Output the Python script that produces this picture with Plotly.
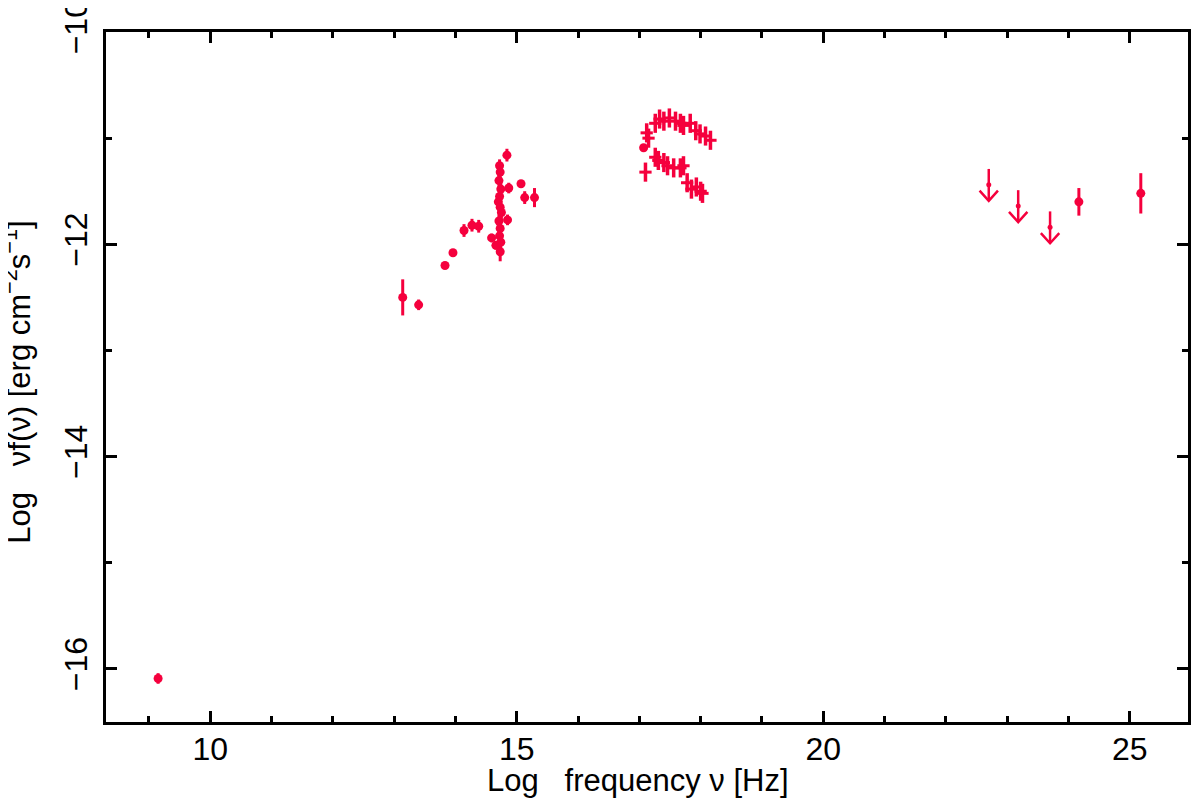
import plotly.graph_objects as go

RED = '#f5003d'

# radio / IR / optical points (log nu, log nuFnu, error)
opt_x = [9.15, 13.14, 13.40, 13.83, 13.96, 14.14, 14.27, 14.38, 14.59, 14.66,
         14.72, 14.73, 14.71, 14.74, 14.72, 14.70, 14.73, 14.75, 14.71, 14.73,
         14.72, 14.74, 14.73, 14.84, 14.87, 14.85, 15.07, 15.13, 15.29]
opt_y = [-16.09, -12.50, -12.57, -12.20, -12.08, -11.87, -11.82, -11.83, -11.94, -12.01,
         -11.26, -11.32, -11.40, -11.48, -11.55, -11.60, -11.65, -11.70, -11.78, -11.85,
         -11.92, -11.98, -12.07, -11.16, -11.47, -11.77, -11.43, -11.56, -11.56]
opt_err = [0.05, 0.17, 0.05, 0.0, 0.0, 0.06, 0.06, 0.06, 0.04, 0.04,
           0.06, 0.06, 0.06, 0.06, 0.06, 0.06, 0.06, 0.06, 0.06, 0.06,
           0.06, 0.06, 0.09, 0.06, 0.05, 0.05, 0.0, 0.06, 0.09]

# X-ray spectra (two states)
xh_x = [17.12, 17.15, 17.26, 17.33, 17.40, 17.49, 17.59, 17.67, 17.72, 17.83,
        17.92, 17.99, 18.08, 18.16]
xh_y = [-10.95, -11.00, -10.86, -10.82, -10.84, -10.81, -10.84, -10.86, -10.88, -10.86,
        -10.93, -10.96, -10.98, -11.02]
xl_x = [17.10, 17.26, 17.31, 17.40, 17.46, 17.56, 17.67, 17.72, 17.78, 17.85,
        17.93, 18.00, 18.03]
xl_y = [-11.32, -11.18, -11.21, -11.23, -11.26, -11.28, -11.28, -11.26, -11.42, -11.48,
        -11.46, -11.50, -11.52]
xr_dot_x = [17.07]
xr_dot_y = [-11.09]

# gamma-ray detections and upper limits
gam_x = [24.17, 25.18]
gam_y = [-11.60, -11.52]
gam_err = [0.13, 0.19]
ul_x = [22.70, 23.18, 23.70]
ul_y = [-11.44, -11.64, -11.84]
UL_HALF = 0.15    # half length of the upper-limit arrow shaft
HEAD_DX = 0.15    # arrow head half width
HEAD_DY = 0.095   # arrow head height

fig = go.Figure()

fig.add_trace(go.Scatter(
    x=opt_x, y=opt_y, mode='markers',
    marker=dict(color=RED, size=9, symbol='circle'),
    error_y=dict(type='data', array=opt_err, color=RED, thickness=3, width=0),
    showlegend=False))

for xs, ys in [(xh_x, xh_y), (xl_x, xl_y)]:
    fig.add_trace(go.Scatter(
        x=xs, y=ys, mode='markers',
        marker=dict(color=RED, size=4),
        error_y=dict(type='constant', value=0.09, color=RED, thickness=3.5, width=0),
        error_x=dict(type='constant', value=0.1, color=RED, thickness=3, width=0),
        showlegend=False))

fig.add_trace(go.Scatter(
    x=xr_dot_x, y=xr_dot_y, mode='markers',
    marker=dict(color=RED, size=9), showlegend=False))

fig.add_trace(go.Scatter(
    x=gam_x, y=gam_y, mode='markers',
    marker=dict(color=RED, size=9),
    error_y=dict(type='data', array=gam_err, color=RED, thickness=3, width=0),
    showlegend=False))

# upper limits: shaft + open V head, built from the limit values
arr_x, arr_y = [], []
for xu, yu in zip(ul_x, ul_y):
    tip = yu - UL_HALF
    arr_x += [xu, xu, None, xu - HEAD_DX, xu, xu + HEAD_DX, None]
    arr_y += [yu + UL_HALF, tip, None, tip + HEAD_DY, tip, tip + HEAD_DY, None]
fig.add_trace(go.Scatter(
    x=arr_x, y=arr_y, mode='lines',
    line=dict(color=RED, width=2.5), showlegend=False))
fig.add_trace(go.Scatter(
    x=ul_x, y=ul_y, mode='markers',
    marker=dict(color=RED, size=5), showlegend=False))

# axis titles as annotations (placed as in the original)
fig.add_annotation(
    text='Log   frequency ν [Hz]', xref='paper', yref='paper',
    x=0.4917, y=-0.085, xanchor='center', yanchor='middle', showarrow=False,
    font=dict(size=31, color='black'))
fig.add_annotation(
    text='Log   νf(ν) [erg cm<sup>−2</sup>s<sup>−1</sup>]', xref='paper', yref='paper',
    x=-0.083, y=0.492, xanchor='center', yanchor='middle', showarrow=False,
    textangle=-90, font=dict(size=31, color='black'))

axis_common = dict(
    showline=True, linewidth=3, linecolor='black', mirror='ticks',
    ticks='inside', ticklen=11, tickwidth=3, tickcolor='black',
    showgrid=False, zeroline=False, automargin=False,
    ticklabeloverflow='allow',
    tickfont=dict(size=32, color='black'),
    minor=dict(ticks='inside', ticklen=6, tickwidth=3, tickcolor='black', dtick=1),
)

fig.update_xaxes(range=[8.3, 25.95], tick0=0, dtick=5, ticklabelstandoff=-3, **axis_common)
fig.update_yaxes(range=[-16.5, -10], tick0=-10, dtick=2, tickangle=-90,
                 ticklabelstandoff=3, **axis_common)

# page body has a small margin, so the figure is sized to fit the window
fig.update_layout(
    width=1192, height=796,
    margin=dict(l=98, r=12, t=24, b=82),
    paper_bgcolor='white', plot_bgcolor='white',
    font=dict(family='Liberation Sans, Arial, sans-serif', color='black'),
)

fig.write_html('out.html')
